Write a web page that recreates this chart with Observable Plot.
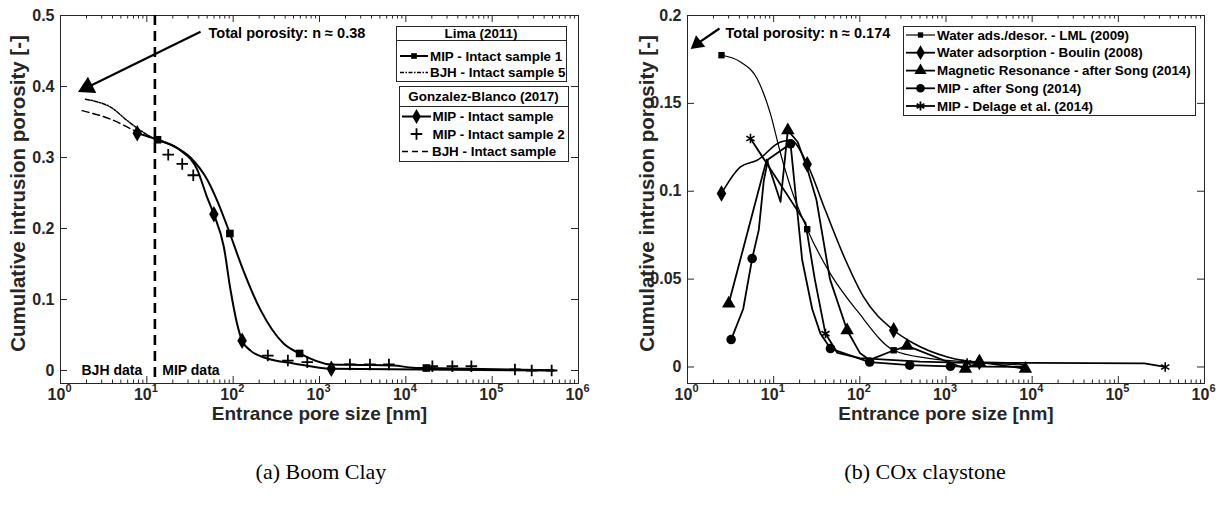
<!DOCTYPE html>
<html><head><meta charset="utf-8">
<script src="https://cdn.jsdelivr.net/npm/d3@7"></script>
<script src="https://cdn.jsdelivr.net/npm/@observablehq/plot@0.6"></script>
<style>
body{margin:0;background:#fff;}
#wrap{position:relative;width:1222px;height:506px;overflow:hidden;background:#fff;}
.panel{position:absolute;top:0;}
.cap{position:absolute;top:459px;font-family:"Liberation Serif","Times New Roman",serif;font-size:22px;transform:translateX(-50%);white-space:nowrap;color:#000;}
</style></head><body>
<div id="wrap">
  <div id="pa" class="panel" style="left:0px"></div>
  <div id="pb" class="panel" style="left:611px"></div>
  <div class="cap" style="left:321px">(a) Boom Clay</div>
  <div class="cap" style="left:925px">(b) COx claystone</div>
</div>
<script>
// ---------------- DATA: (a) Boom Clay ----------------
const limaMipX = [13.3, 18.8, 32, 50.5, 65.4, 91.6, 122, 208, 384, 588, 1345, 3000, 7220, 12000, 17290, 516000];
const limaMipY = [0.325, 0.318, 0.300, 0.268, 0.239, 0.193, 0.151, 0.085, 0.038, 0.024, 0.0085, 0.0078, 0.007, 0.004, 0.0035, 0.0005];
const limaMipMarkIdx = [0, 5, 9, 14];
const limaBjhX = [1.95, 2.55, 3.8, 5.93, 8.45, 13.2];
const limaBjhY = [0.382, 0.379, 0.371, 0.352, 0.338, 0.324];
const gbMipX = [7.74, 13.3, 24.6, 38.7, 49.2, 59.8, 78, 93.3, 111, 127, 159, 248, 501, 1371, 516000];
const gbMipY = [0.334, 0.325, 0.310, 0.282, 0.246, 0.220, 0.174, 0.113, 0.066, 0.042, 0.028, 0.017, 0.010, 0.0024, 0.0];
const gbMipMarkIdx = [0, 5, 9, 13];
const gbPlusX = [17.7, 25.7, 34.5, 252, 430, 722, 2250, 3840, 6370, 20300, 34600, 57400, 183600, 287000, 489000];
const gbPlusY = [0.304, 0.291, 0.275, 0.021, 0.014, 0.0117, 0.0085, 0.0085, 0.0085, 0.006, 0.006, 0.006, 0.0014, 0.0, 0.0];
const gbBjhX = [1.78, 3.8, 7.74, 13.2];
const gbBjhY = [0.366, 0.354, 0.336, 0.324];
const boundaryA = [12.4];
const yTicksA = [0, 0.1, 0.2, 0.3, 0.4, 0.5];
const yTickLabelsA = ["0", "0.1", "0.2", "0.3", "0.4", "0.5"];
const arrowA = {x1: 41.9, y1: 0.477, x2: 2.05, y2: 0.399};
const noteA = {x: 51.9, y: 0.475, text: "Total porosity: n \u2248 0.38"};
const regionLabels = ["BJH data", "MIP data"];
const regionLabelX = [1.75, 15.1];
const legendA1Title = "Lima (2011)";
const legendA1 = ["MIP - Intact sample 1", "BJH - Intact sample 5"];
const legendA2Title = "Gonzalez-Blanco (2017)";
const legendA2 = ["MIP - Intact sample", "MIP - Intact sample 2", "BJH - Intact sample"];

// ---------------- DATA: (b) COx claystone ----------------
const lmlX = [2.48, 4.12, 6.43, 9.18, 12.0, 15.7, 24.5, 45.6, 93, 247, 600, 2440, 8340];
const lmlY = [0.1774, 0.1736, 0.164, 0.144, 0.1216, 0.1024, 0.0784, 0.053, 0.032, 0.0095, 0.005, 0.0025, 0.001];
const lmlMarkIdx = [0, 6, 9];
const boulinX = [2.48, 4.12, 6.43, 12.0, 15.7, 24.5, 39.9, 68, 110, 247, 419, 1038, 2440, 6050, 8800];
const boulinY = [0.0987, 0.1138, 0.1176, 0.128, 0.129, 0.1154, 0.089, 0.061, 0.040, 0.0209, 0.0135, 0.0057, 0.0028, 0.0023, 0.0004];
const boulinMarkIdx = [0, 5, 9, 12];
const mrX = [3.01, 8.3, 12.0, 14.6, 19, 24.5, 31.4, 45, 71.2, 100, 130, 250, 354, 1680, 2440, 8340];
const mrY = [0.0361, 0.118, 0.094, 0.1347, 0.128, 0.113, 0.095, 0.05, 0.0209, 0.008, 0.004, 0.0095, 0.012, -0.001, 0.0028, -0.001];
const mrMarkIdx = [0, 3, 8, 12, 13, 14, 15];
const songMipX = [3.21, 4.43, 5.63, 6.72, 7.68, 8.6, 15.7, 21.4, 28, 34.9, 45.6, 130, 379, 1125, 8340];
const songMipY = [0.0156, 0.033, 0.0617, 0.078, 0.106, 0.118, 0.127, 0.061, 0.033, 0.019, 0.0105, 0.0028, 0.001, 0.0004, 0.0];
const songMipMarkIdx = [0, 2, 6, 10, 11, 12, 13];
const delageX = [5.38, 23.4, 30, 39.9, 55, 100, 500, 1757, 10000, 200000, 350000];
const delageY = [0.13, 0.082, 0.05, 0.019, 0.008, 0.005, 0.003, 0.0023, 0.0023, 0.002, 0.0];
const delageMarkIdx = [0, 3, 7, 10];
const yTicksB = [0, 0.05, 0.1, 0.15, 0.2];
const yTickLabelsB = ["0", "0.05", "0.1", "0.15", "0.2"];
const arrowB = {x1: 2.35, y1: 0.1926, x2: 1.3, y2: 0.184};
const noteB = {x: 2.76, y: 0.19, text: "Total porosity: n \u2248 0.174"};
const legendB = ["Water ads./desor. - LML (2009)", "Water adsorption - Boulin (2008)", "Magnetic Resonance - after Song (2014)", "MIP - after Song (2014)", "MIP - Delage et al. (2014)"];

const xLabel = "Entrance pore size [nm]";
const yLabel = "Cumulative intrusion porosity [-]";
const decades = [1, 10, 100, 1e3, 1e4, 1e5, 1e6];

// ---------------- helpers ----------------
const FONT = "'Liberation Sans', Arial, Helvetica, sans-serif";
const AX = "#262626";
const rows = (X, Y) => X.map((x, i) => ({x, y: Y[i]}));
const pick = (X, Y, idx) => idx.map(i => ({x: X[i], y: Y[i]}));
const innerDecades = decades.slice(1, -1);
const minor = decades.slice(0, -1).flatMap(d => [2,3,4,5,6,7,8,9].map(k => k * d));

function frameMarks(plotW, plotH, yTicks, yLabels, yLabelDx) {
  const M = 7, m = 3.5;
  const inner = yTicks.slice(0, -1);
  return [
    Plot.frame({stroke: AX, strokeWidth: 1}),
    Plot.tickX(innerDecades, {x: d => d, insetTop: plotH - M, stroke: AX}),
    Plot.tickX(innerDecades, {x: d => d, insetBottom: plotH - M, stroke: AX}),
    Plot.tickX(minor, {x: d => d, insetTop: plotH - m, stroke: AX}),
    Plot.tickX(minor, {x: d => d, insetBottom: plotH - m, stroke: AX}),
    Plot.tickY(inner, {y: d => d, insetRight: plotW - M, stroke: AX}),
    Plot.tickY(inner, {y: d => d, insetLeft: plotW - M, stroke: AX}),
    Plot.text(decades, {x: d => d, frameAnchor: "bottom", text: () => "10", dy: 16, dx: -4, fontSize: 16, fill: AX}),
    Plot.text(decades, {x: d => d, frameAnchor: "bottom", text: d => String(Math.round(Math.log10(d))), dy: 8, dx: 5, textAnchor: "start", fontSize: 11, fill: AX}),
    Plot.text(yTicks, {y: d => d, frameAnchor: "left", text: (d, i) => yLabels[i], textAnchor: "end", dx: -6, fontSize: 16, fill: AX}),
    Plot.text([xLabel], {frameAnchor: "bottom", dy: 36, fontSize: 19, fill: AX}),
    Plot.text([yLabel], {frameAnchor: "left", textAnchor: "middle", rotate: -90, dx: yLabelDx, dy: -6, fontSize: 20.5, fill: AX})
  ];
}

// ---------------- panel (a) ----------------
const WA = 611, HA = 450, mLA = 60, mRA = 33, mT = 15, mB = 67;
const plotA = Plot.plot({
  width: WA, height: HA, marginLeft: mLA, marginRight: mRA, marginTop: mT, marginBottom: mB,
  x: {type: "log", domain: [1, 1e6], axis: null},
  y: {domain: [-0.0183, 0.5], axis: null},
  style: {fontFamily: FONT, fontWeight: "bold", background: "white", overflow: "visible"},
  marks: [
    ...frameMarks(WA - mLA - mRA, HA - mT - mB, yTicksA, yTickLabelsA, -42),
    Plot.ruleX(boundaryA, {x: d => d, stroke: "#000", strokeWidth: 2.6, strokeDasharray: "10,6"}),
    Plot.line(rows(limaBjhX, limaBjhY), {x: "x", y: "y", stroke: "#000", strokeWidth: 1.5, strokeDasharray: "4,1.5,1.5,1.5", curve: "monotone-x"}),
    Plot.line(rows(gbBjhX, gbBjhY), {x: "x", y: "y", stroke: "#000", strokeWidth: 1.5, strokeDasharray: "7,4", curve: "monotone-x"}),
    Plot.line(rows(limaMipX, limaMipY), {x: "x", y: "y", stroke: "#000", strokeWidth: 2, curve: "monotone-x"}),
    Plot.line(rows(gbMipX, gbMipY), {x: "x", y: "y", stroke: "#000", strokeWidth: 2, curve: "monotone-x"}),
    Plot.dot(pick(limaMipX, limaMipY, limaMipMarkIdx), {x: "x", y: "y", symbol: "square", r: 4.3, fill: "#000"}),
    Plot.dot(pick(gbMipX, gbMipY, gbMipMarkIdx), {x: "x", y: "y", symbol: "diamond", r: 5, fill: "#000"}),
    Plot.dot(rows(gbPlusX, gbPlusY), {x: "x", y: "y", symbol: "plus", r: 3.8, stroke: "#000", strokeWidth: 1.8}),
    Plot.link([arrowA], {x1: "x1", y1: "y1", x2: "x2", y2: "y2", stroke: "#000", strokeWidth: 2.2}),
    Plot.dot([arrowA], {x: "x2", y: "y2", symbol: "triangle", r: 6.8, fill: "#000", rotate: 243}),
    Plot.text([noteA], {x: "x", y: "y", text: "text", textAnchor: "start", fontSize: 14.5, fill: "#000"}),
    Plot.text(regionLabels, {x: (d, i) => regionLabelX[i], y: () => 0, text: d => d, textAnchor: "start", fontSize: 14, fill: "#000"})
  ]
});
document.getElementById("pa").appendChild(plotA);

// ---------------- panel (b) ----------------
const WB = 611, HB = 450, mLB = 76, mRB = 18;
const plotB = Plot.plot({
  width: WB, height: HB, marginLeft: mLB, marginRight: mRB, marginTop: mT, marginBottom: mB,
  x: {type: "log", domain: [1, 1e6], axis: null},
  y: {domain: [-0.0094, 0.2], axis: null},
  style: {fontFamily: FONT, fontWeight: "bold", background: "white", overflow: "visible"},
  marks: [
    ...frameMarks(WB - mLB - mRB, HB - mT - mB, yTicksB, yTickLabelsB, -40),
    Plot.line(rows(lmlX, lmlY), {x: "x", y: "y", stroke: "#000", strokeWidth: 1.2, curve: "monotone-x"}),
    Plot.line(rows(boulinX, boulinY), {x: "x", y: "y", stroke: "#000", strokeWidth: 1.6, curve: "monotone-x"}),
    Plot.line(rows(mrX, mrY), {x: "x", y: "y", stroke: "#000", strokeWidth: 1.8}),
    Plot.line(rows(songMipX, songMipY), {x: "x", y: "y", stroke: "#000", strokeWidth: 1.8}),
    Plot.line(rows(delageX, delageY), {x: "x", y: "y", stroke: "#000", strokeWidth: 1.8}),
    Plot.dot(pick(lmlX, lmlY, lmlMarkIdx), {x: "x", y: "y", symbol: "square", r: 3.6, fill: "#000"}),
    Plot.dot(pick(boulinX, boulinY, boulinMarkIdx), {x: "x", y: "y", symbol: "diamond", r: 5, fill: "#000"}),
    Plot.dot(pick(mrX, mrY, mrMarkIdx), {x: "x", y: "y", symbol: "triangle", r: 5, fill: "#000"}),
    Plot.dot(pick(songMipX, songMipY, songMipMarkIdx), {x: "x", y: "y", symbol: "circle", r: 4.8, fill: "#000"}),
    Plot.dot(pick(delageX, delageY, delageMarkIdx), {x: "x", y: "y", symbol: "asterisk", r: 4.5, stroke: "#000", strokeWidth: 1.6}),
    Plot.link([arrowB], {x1: "x1", y1: "y1", x2: "x2", y2: "y2", stroke: "#000", strokeWidth: 2.2}),
    Plot.dot([arrowB], {x: "x2", y: "y2", symbol: "triangle", r: 5.5, fill: "#000", rotate: 231}),
    Plot.text([noteB], {x: "x", y: "y", text: "text", textAnchor: "start", fontSize: 14.5, fill: "#000"})
  ]
});
document.getElementById("pb").appendChild(plotB);

// ---------------- legends (overlay) ----------------
const leg = d3.select("#wrap").append("svg")
  .attr("width", 1222).attr("height", 506)
  .style("position", "absolute").style("left", "0px").style("top", "0px")
  .style("font-family", FONT).style("font-weight", "bold").style("font-size", "13.4px");
function box(x, y, w, h) {
  leg.append("rect").attr("x", x + 0.5).attr("y", y + 0.5).attr("width", w).attr("height", h)
    .attr("fill", "white").attr("stroke", AX).attr("stroke-width", 1);
}
function hline(x1, x2, y, dash, sw) {
  leg.append("line").attr("x1", x1).attr("x2", x2).attr("y1", y).attr("y2", y)
    .attr("stroke", "#000").attr("stroke-width", sw || 2).attr("stroke-dasharray", dash || null);
}
function sym(type, x, y, r, stroke) {
  const p = leg.append("path").attr("transform", `translate(${x},${y})`)
    .attr("d", d3.symbol(type, Math.PI * r * r)());
  if (stroke) p.attr("fill", "none").attr("stroke", "#000").attr("stroke-width", 1.8);
  else p.attr("fill", "#000");
}
function label(x, y, t, anchor) {
  leg.append("text").attr("x", x).attr("y", y).attr("dy", "0.35em").attr("text-anchor", anchor || "start").attr("fill", "#000").text(t);
}
// (a) box 1
box(396, 26, 170, 55);
leg.append("line").attr("x1", 396).attr("x2", 566).attr("y1", 40.5).attr("y2", 40.5).attr("stroke", AX);
label(481, 33.5, legendA1Title, "middle");
hline(400, 428, 56); sym(d3.symbolSquare, 414, 56, 3.2); label(430, 56, legendA1[0]);
hline(400, 428, 72.5, "4,1.5,1.5,1.5", 1.4); label(430, 72.5, legendA1[1]);
// (a) box 2
box(399, 86, 169, 75);
leg.append("line").attr("x1", 399).attr("x2", 568).attr("y1", 106.5).attr("y2", 106.5).attr("stroke", AX);
label(483.5, 96.8, legendA2Title, "middle");
hline(402, 431, 116.5); sym(d3.symbolDiamond, 416.5, 116.5, 4.5); label(432.5, 116.5, legendA2[0]);
sym(d3.symbolPlus, 416.5, 134, 3.8, true); label(432.5, 134, legendA2[1]);
hline(402, 431, 151.5, "6,4", 1.5); label(432, 151.5, legendA2[2]);
// (b) legend
box(903, 26, 292, 89);
const bY = [35, 52.7, 70.6, 88.3, 106];
const bSyms = [d3.symbolSquare, d3.symbolDiamond, d3.symbolTriangle, d3.symbolCircle, d3.symbolAsterisk];
const bR = [3, 4.5, 4.5, 4.3, 4.2];
legendB.forEach((t, i) => {
  hline(906, 935, bY[i], null, i === 0 ? 1.2 : 1.8);
  sym(bSyms[i], 920.5, bY[i], bR[i], i === 4);
  label(937, bY[i], t);
});
</script>
</body></html>
